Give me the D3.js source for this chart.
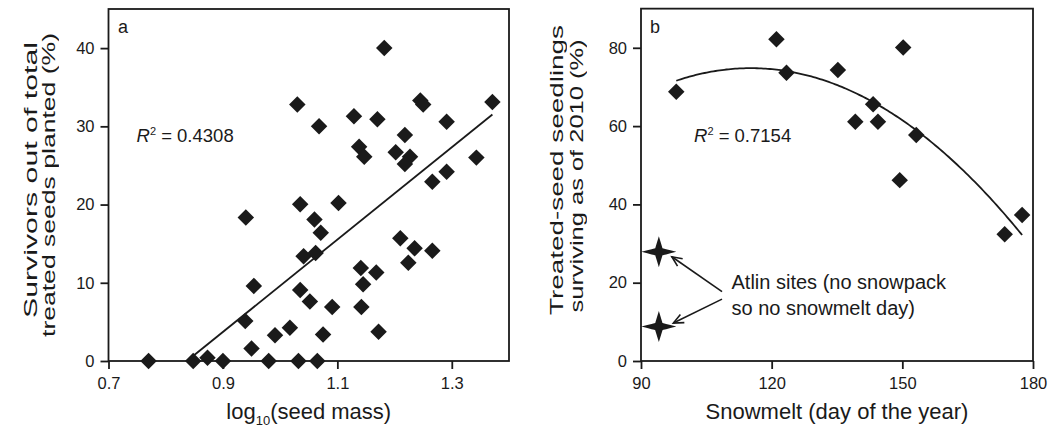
<!DOCTYPE html>
<html><head><meta charset="utf-8">
<script src="https://cdn.jsdelivr.net/npm/d3@7"></script>
<style>
body{margin:0;background:#fff}
svg{display:block}
text{font-family:"Liberation Sans",Arial,Helvetica,sans-serif;fill:#1a1a1a}
.vt{opacity:0.995}
</style>
</head><body>
<svg id="chart" width="1051" height="433"></svg>
<script>
// ---------- Panel a data ----------
const seedMassLog = [1.182,1.030,1.068,1.129,1.170,1.245,1.250,1.371,1.291,1.218,
  1.138,1.147,1.202,1.227,1.218,1.343,1.291,1.266,0.940,1.035,
  1.102,1.060,1.071,1.041,1.062,1.210,1.235,1.266,1.224,1.141,
  1.168,1.145,0.954,1.035,1.052,1.091,1.142,0.939,1.017,0.991,
  1.075,1.172,0.950,0.770,0.848,0.873,0.900,0.980,1.032,1.065];
const survivorsPct = [40.0,32.8,30.0,31.3,30.9,33.3,32.8,33.1,30.6,28.9,
  27.4,26.1,26.7,26.1,25.2,26.0,24.2,22.9,18.35,20.05,
  20.2,18.1,16.4,13.4,13.8,15.7,14.4,14.1,12.55,11.9,
  11.3,9.8,9.6,9.07,7.6,6.9,6.9,5.1,4.25,3.3,
  3.4,3.75,1.6,0,0,0.4,0,0,0,0];
const aTicksX = [0.7, 0.9, 1.1, 1.3];
const aTicksY = [0, 10, 20, 30, 40];
const aFitRange = [0.837, 1.371];
const aFitCoef = [-49.38, 59.0];           // intercept, slope
const aR2 = "0.4308";

// ---------- Panel b data ----------
const snowmeltDay = [98.1,121.1,123.4,135.2,150.2,143.3,139.2,144.4,153.2,149.4,173.5,177.5];
const seedlingSurvPct = [68.8,82.2,73.6,74.3,80.1,65.6,61.1,61.1,57.7,46.2,32.4,37.3];
const atlinDay = [94.1, 94.1];
const atlinPct = [27.9, 8.8];
const bTicksX = [90, 120, 150, 180];
const bTicksY = [0, 20, 40, 60, 80];
const bFitRange = [98.1, 177.5];
const bFitCoef = [-70.92, 2.5298, -0.01098]; // c0, c1, c2
const bR2 = "0.7154";

const ink = "#1a1a1a";
const svg = d3.select("#chart");
svg.append("rect").attr("width",1051).attr("height",433).attr("fill","#fff");

function panel(opts){
  const {x, y, ticksX, ticksY, xFmt} = opts;
  const g = svg.append("g");
  const ax = g.append("g").attr("transform",`translate(0,${y.range()[0]})`)
    .call(d3.axisBottom(x).tickValues(ticksX).tickFormat(xFmt).tickSize(8).tickPadding(8).tickSizeOuter(0));
  const ay = g.append("g").attr("transform",`translate(${x.range()[0]},0)`)
    .call(d3.axisLeft(y).tickValues(ticksY).tickSize(8).tickPadding(6).tickSizeOuter(0));
  [ax, ay].forEach(a=>{
    a.select(".domain").remove();
    a.selectAll("line").attr("stroke",ink).attr("stroke-width",1.8);
    a.selectAll("text").attr("font-size",16.5).attr("fill",ink)
      .style("font-family",'"Liberation Sans",Arial,sans-serif');
  });
  g.append("rect")
    .attr("x",x.range()[0]).attr("y",y.range()[1])
    .attr("width",x.range()[1]-x.range()[0]).attr("height",y.range()[0]-y.range()[1])
    .attr("fill","none").attr("stroke",ink).attr("stroke-width",1.8);
  return g;
}

function diamonds(g, x, y, xs, ys){
  const sym = d3.symbol(d3.symbolSquare, 136)();
  g.selectAll(null).data(xs.map((d,i)=>[d, ys[i]])).enter().append("path")
    .attr("d", sym)
    .attr("transform", d=>`translate(${x(d[0])},${y(d[1])}) rotate(45)`)
    .attr("fill", ink);
}

function vTitle(g, text, x, y, len){
  g.append("text").attr("class","vt").attr("font-size",19).attr("text-anchor","middle")
    .attr("transform",`translate(${x},${y}) rotate(-90)`)
    .append("tspan").attr("textLength",len).attr("lengthAdjust","spacingAndGlyphs").text(text);
}

function r2Label(g, x, y, val){
  const t = g.append("text").attr("x",x).attr("y",y).attr("font-size",18.5);
  t.append("tspan").attr("font-style","italic").text("R");
  t.append("tspan").attr("font-size",11).attr("dy",-7).text("2");
  t.append("tspan").attr("dy",7).text(" = " + val);
}

// ---------- Panel a ----------
const xa = d3.scaleLinear().domain([0.7,1.4]).range([108.5,509]);
const ya = d3.scaleLinear().domain([0,45]).range([361,9]);
const ga = panel({x:xa, y:ya, ticksX:aTicksX, ticksY:aTicksY, xFmt:d3.format(".1f")});
ga.append("line")
  .attr("x1",xa(aFitRange[0])).attr("y1",ya(aFitCoef[0]+aFitCoef[1]*aFitRange[0]))
  .attr("x2",xa(aFitRange[1])).attr("y2",ya(aFitCoef[0]+aFitCoef[1]*aFitRange[1]))
  .attr("stroke",ink).attr("stroke-width",1.8);
diamonds(ga, xa, ya, seedMassLog, survivorsPct);
ga.append("text").attr("x",118).attr("y",33).attr("font-size",18).text("a");
r2Label(ga, 136.5, 141.5, aR2);
vTitle(ga, "Survivors out of total", 37, 180, 276);
vTitle(ga, "treated seeds planted (%)", 55, 185, 304);
const xt = ga.append("text").attr("x",(xa.range()[0]+xa.range()[1])/2).attr("y",419)
  .attr("font-size",22).attr("text-anchor","middle");
xt.append("tspan").text("log");
xt.append("tspan").attr("font-size",13).attr("dy",6).text("10");
xt.append("tspan").attr("dy",-6).text("(seed mass)");

// ---------- Panel b ----------
const xb = d3.scaleLinear().domain([90,180]).range([641,1033]);
const yb = d3.scaleLinear().domain([0,90]).range([361,8.65]);
const gb = panel({x:xb, y:yb, ticksX:bTicksX, ticksY:bTicksY, xFmt:d3.format("d")});
const fitPts = d3.range(bFitRange[0], bFitRange[1]+0.001, 0.5).concat([bFitRange[1]])
  .map(d=>[d, bFitCoef[0]+bFitCoef[1]*d+bFitCoef[2]*d*d]);
gb.append("path").attr("d", d3.line().x(d=>xb(d[0])).y(d=>yb(d[1]))(fitPts))
  .attr("fill","none").attr("stroke",ink).attr("stroke-width",1.8);
diamonds(gb, xb, yb, snowmeltDay, seedlingSurvPct);
// Atlin stars (4-pointed)
const starPath = "M-17.5,0 Q-4,-3.5 -3.6,-3.6 Q-3.5,-4 0,-15.5 Q3.5,-4 3.6,-3.6 Q4,-3.5 17.5,0 Q4,3.5 3.6,3.6 Q3.5,4 0,15.5 Q-3.5,4 -3.6,3.6 Q-4,3.5 -17.5,0 Z";
gb.selectAll(null).data(atlinDay.map((d,i)=>[d, atlinPct[i]])).enter().append("path")
  .attr("d", starPath)
  .attr("transform", d=>`translate(${xb(d[0])},${yb(d[1])})`)
  .attr("fill", ink);
// arrows
const tail = [[108.6,17.7],[108.6,15.8]];
atlinDay.forEach((d,i)=>{
  const tx = xb(d)+ (i===0?13:14.5), ty = yb(atlinPct[i]) + (i===0?5:-3.5);
  const sx = xb(tail[i][0]), sy = yb(tail[i][1]);
  const ang = Math.atan2(ty-sy, tx-sx);
  const L = 11, spread = 0.42;
  gb.append("line").attr("x1",sx).attr("y1",sy).attr("x2",tx).attr("y2",ty)
    .attr("stroke",ink).attr("stroke-width",1.6);
  gb.append("path")
    .attr("d",`M${tx-L*Math.cos(ang-spread)},${ty-L*Math.sin(ang-spread)} L${tx},${ty} L${tx-L*Math.cos(ang+spread)},${ty-L*Math.sin(ang+spread)}`)
    .attr("fill","none").attr("stroke",ink).attr("stroke-width",1.6);
});
const at = gb.append("text").attr("x",731.5).attr("y",289).attr("font-size",20);
at.append("tspan").attr("x",731.5).text("Atlin sites (no snowpack");
at.append("tspan").attr("x",731.5).attr("dy",26).text("so no snowmelt day)");
gb.append("text").attr("x",650).attr("y",33).attr("font-size",18).text("b");
r2Label(gb, 694, 141.5, bR2);
vTitle(gb, "Treated-seed seedlings", 563, 170, 290);
vTitle(gb, "surviving as of 2010 (%)", 583, 176, 273);
gb.append("text").attr("x",(xb.range()[0]+xb.range()[1])/2).attr("y",419)
  .attr("font-size",22).attr("text-anchor","middle").text("Snowmelt (day of the year)");
</script>
</body></html>
